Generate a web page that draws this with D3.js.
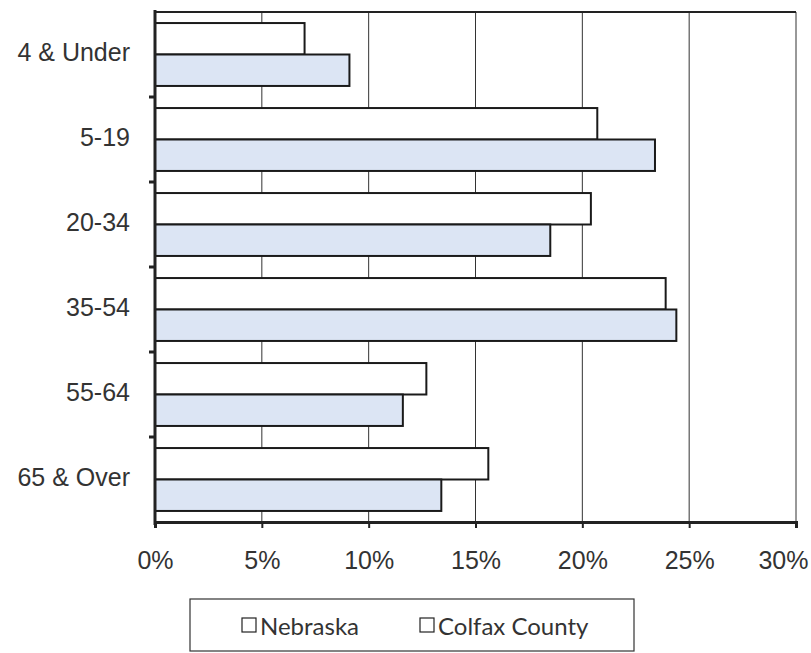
<!DOCTYPE html>
<html>
<head>
<meta charset="utf-8">
<script src="https://cdn.jsdelivr.net/npm/d3@7"></script>
<style>
  body { margin: 0; background: #fff; }
  svg { display: block; font-family: Lato, "Open Sans", sans-serif; }
</style>
</head>
<body>
<div id="chart"></div>
<script>
// Age groups, share of population (%)
const categories = ['4 & Under', '5-19', '20-34', '35-54', '55-64', '65 & Over'];
const nebraska = [7.0, 20.7, 20.4, 23.9, 12.7, 15.6];
const colfax = [9.1, 23.4, 18.5, 24.4, 11.6, 13.4];
const seriesNames = ['Nebraska', 'Colfax County'];
const xTicks = [0, 5, 10, 15, 20, 25, 30];

const W = 811, H = 653;
const margin = { top: 12, right: 15, bottom: 131, left: 155 };
const width = W - margin.left - margin.right;
const height = H - margin.top - margin.bottom;

const svg = d3.select('#chart').append('svg')
    .attr('width', W).attr('height', H);
const g = svg.append('g').attr('transform', `translate(${margin.left},${margin.top})`);

const x = d3.scaleLinear().domain([0, 30]).range([0, width]);
const y = d3.scaleBand().domain(categories).range([0, height]).paddingInner(0.26).paddingOuter(0.13);
const inner = d3.scaleBand().domain(seriesNames).range([0, y.bandwidth()]);

// gridlines
g.selectAll('.grid')
    .data(xTicks.slice(1))
    .join('line')
    .attr('x1', d => x(d)).attr('x2', d => x(d))
    .attr('y1', 0).attr('y2', height)
    .attr('stroke', '#333').attr('stroke-width', 1);

// top border
g.append('line').attr('x1', 0).attr('x2', width).attr('y1', 0).attr('y2', 0)
    .attr('stroke', '#222').attr('stroke-width', 2);

const rows = categories.map((c, i) => ({ c, vals: [nebraska[i], colfax[i]] }));
const fills = ['#ffffff', '#dce5f4'];

const grp = g.selectAll('.row').data(rows).join('g')
    .attr('transform', d => `translate(0,${y(d.c)})`);
grp.selectAll('rect')
    .data(d => d.vals.map((v, j) => ({ v, s: seriesNames[j], j })))
    .join('rect')
    .attr('x', 0)
    .attr('y', d => inner(d.s))
    .attr('width', d => x(d.v))
    .attr('height', inner.bandwidth())
    .attr('fill', d => fills[d.j])
    .attr('stroke', '#1a1a1a').attr('stroke-width', 2);

// y axis
const yAxis = g.append('g')
    .call(d3.axisLeft(y).tickSize(0).tickPadding(25));
yAxis.select('.domain').remove();
yAxis.selectAll('text').attr('font-size', '25px').attr('fill', '#333').attr('dy', '0.25em');
// category separator ticks
g.selectAll('.ytick')
    .data(categories.slice(1))
    .join('line')
    .attr('x1', -6).attr('x2', 0)
    .attr('y1', d => y(d) - y.step() * y.paddingInner() / 2)
    .attr('y2', d => y(d) - y.step() * y.paddingInner() / 2)
    .attr('stroke', '#222').attr('stroke-width', 3);
g.append('line').attr('x1', 0).attr('x2', 0).attr('y1', -2).attr('y2', height + 3)
    .attr('stroke', '#222').attr('stroke-width', 3);

// x axis
const xAxis = g.append('g')
    .attr('transform', `translate(0,${height})`)
    .call(d3.axisBottom(x).tickValues(xTicks).tickFormat(d => d + '%').tickSize(6).tickPadding(23));
xAxis.select('.domain').attr('stroke', '#222').attr('stroke-width', 3);
xAxis.selectAll('.tick line').attr('stroke', '#222').attr('stroke-width', 2);
xAxis.selectAll('text').attr('font-size', '25px').attr('fill', '#333');
xAxis.selectAll('.tick').filter(d => d === 30).select('text')
    .attr('text-anchor', 'end').attr('x', 12);

// legend (hollow squares, as in the scan)
const lg = svg.append('g').attr('transform', 'translate(190,599)');
lg.append('rect').attr('width', 444).attr('height', 52)
    .attr('fill', '#fff').attr('stroke', '#333').attr('stroke-width', 1.2);
const items = [{ n: seriesNames[0], x: 52 }, { n: seriesNames[1], x: 230 }];
items.forEach(it => {
    lg.append('rect').attr('x', it.x).attr('y', 19).attr('width', 14).attr('height', 14)
        .attr('fill', '#fff').attr('stroke', '#222').attr('stroke-width', 1.2);
    lg.append('text').attr('x', it.x + 18).attr('y', 36)
        .attr('font-size', '24px').attr('fill', '#333').text(it.n);
});
</script>
</body>
</html>
